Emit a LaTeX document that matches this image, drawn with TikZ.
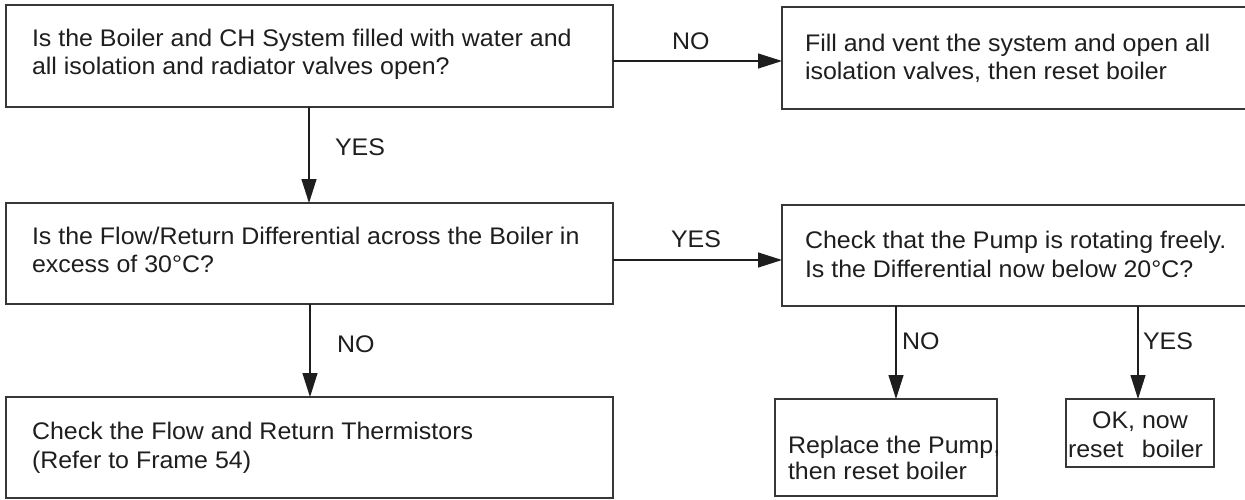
\documentclass[tikz,border=0pt]{standalone}
\usepackage{fontspec}
\setmainfont{Liberation Sans}[FakeStretch=1.04]
\usetikzlibrary{arrows.meta}
\definecolor{edge}{RGB}{55,55,55}
\definecolor{ink}{RGB}{30,30,30}
\tikzset{
  box/.style={draw=edge, line width=1.5pt, inner sep=0pt, outer sep=0pt, anchor=north west},
  txt/.style={anchor=base west, inner sep=0pt, outer sep=0pt, text=ink, font=\fontsize{24}{28}\selectfont},
  lbl/.style={txt},
  arr/.style={draw=ink, line width=1.2pt, -{Triangle[length=24pt,width=15pt]}}
}
\begin{document}
\begin{tikzpicture}[x=1pt,y=-1pt]
\useasboundingbox (0,0) rectangle (1245,500);
% boxes (the two right-hand boxes run past the right edge of the picture)
\node[box, minimum width=607pt, minimum height=102pt] (b1) at (6,5) {};
\node[box, minimum width=470pt, minimum height=102pt] (b2) at (782,7) {};
\node[box, minimum width=607pt, minimum height=101pt] (b3) at (6,203) {};
\node[box, minimum width=470pt, minimum height=101pt] (b4) at (782,205) {};
\node[box, minimum width=607pt, minimum height=101pt] (b5) at (6,397) {};
\node[box, minimum width=222pt, minimum height=97pt] (b6) at (775,399) {};
\node[box, minimum width=148pt, minimum height=68pt] (b7) at (1066,399) {};
% box texts
\node[txt] (t1a) at (32,47) {Is the Boiler and CH System filled with water and};
\node[txt] (t1b) at (32,75) {all isolation and radiator valves open?};
\node[txt] (t2a) at (805,52) {Fill and vent the system and open all};
\node[txt] (t2b) at (805,80) {isolation valves, then reset boiler};
\node[txt] (t3a) at (32,244) {Is the Flow/Return Differential across the Boiler in};
\node[txt] (t3b) at (32,272) {excess of 30°C?};
\node[txt] (t4a) at (805,248) {Check that the Pump is rotating freely.};
\node[txt] (t4b) at (805,277) {Is the Differential now below 20°C?};
\node[txt] (t5a) at (32,439) {Check the Flow and Return Thermistors};
\node[txt] (t5b) at (32,468) {(Refer to Frame 54)};
\node[txt] (t6a) at (788,453) {Replace the Pump,};
\node[txt] (t6b) at (788,479) {then reset boiler};
\node[txt, anchor=base] (t7a) at (1140,428) {OK, now};
\node[txt] (t7b) at (1068,457) {\makebox[135pt][s]{reset boiler}};
% connectors
\draw[arr] (b1.east |- {(0,61)}) -- (b2.west |- {(0,61)});
\draw[arr] (b3.east |- {(0,260)}) -- (b4.west |- {(0,260)});
\draw[arr] (b1.south -| {(309,0)}) -- (b3.north -| {(309,0)});
\draw[arr] (b3.south -| {(310,0)}) -- (b5.north -| {(310,0)});
\draw[arr] (b4.south -| {(896,0)}) -- (b6.north -| {(896,0)});
\draw[arr] (b4.south -| {(1138,0)}) -- (b7.north -| {(1138,0)});
% connector labels
\node[lbl] (l1) at (672,50) {NO};
\node[lbl] (l2) at (671,247) {YES};
\node[lbl] (l3) at (335,156) {YES};
\node[lbl] (l4) at (337,352) {NO};
\node[lbl] (l5) at (902,349) {NO};
\node[lbl] (l6) at (1143,349) {YES};
\end{tikzpicture}
\end{document}
